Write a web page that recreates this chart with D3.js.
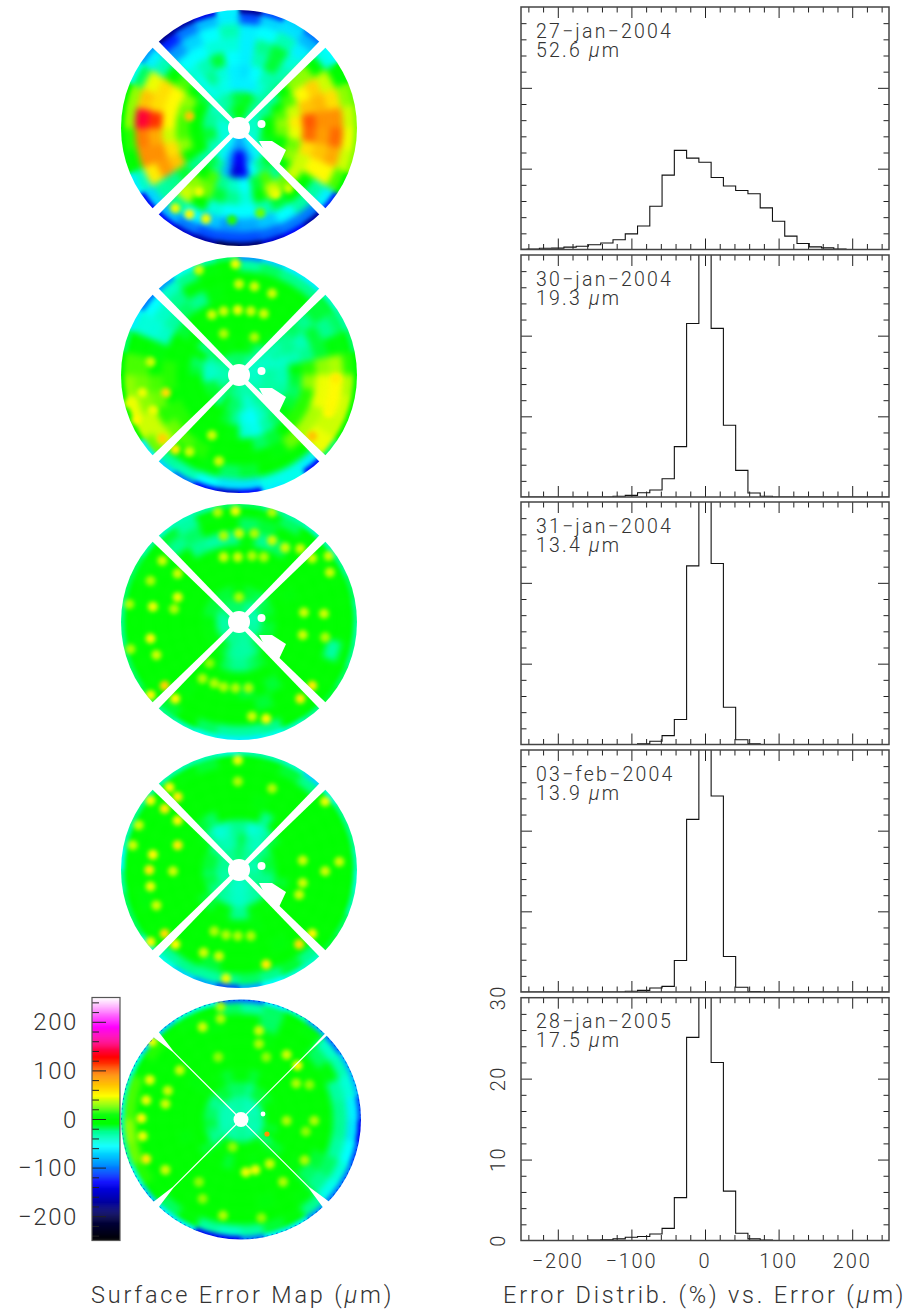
<!DOCTYPE html>
<html><head><meta charset="utf-8">
<script src="https://cdn.jsdelivr.net/npm/d3@7/dist/d3.min.js"></script>
<style>html,body{margin:0;background:#fff}svg{display:block}text{font-family:Roboto,"Open Sans",sans-serif;font-weight:300;fill:#333}</style>
</head><body><script>
// ---------- data ----------
const dates=["27−jan−2004","30−jan−2004","31−jan−2004","03−feb−2004","28−jan−2005"];
const rmsValues=["52.6","19.3","13.4","13.9","17.5"];
const binIndex=d3.range(-15,16);
const hist1=[.02,.05,.15,.17,.3,.4,.58,.8,1.2,1.93,2.9,5.35,9.2,12.26,11.3,10.8,8.9,7.85,7.3,6.9,5.15,3.5,1.65,.74,.33,.2,.05,0,0,0,0];
const hist2=[0,0,0,0,0,0,0,0,.1,.2,.53,.86,2.26,6.25,21.5,34.6,20.9,8.9,3.3,.5,.1,0,0,0,0,0,0,0,0,0,0];
const hist3=[0,0,0,0,0,0,0,0,0,0,.1,.4,1.1,3.1,22.1,45.4,22.4,4.6,.58,.1,0,0,0,0,0,0,0,0,0,0,0];
const hist4=[0,0,0,0,0,0,0,0,0,.1,.2,.5,.7,3.9,21.4,43.8,24.3,4.4,.58,.05,0,0,0,0,0,0,0,0,0,0,0];
const hist5=[0,0,0,0,0,0,.05,.1,.2,.4,.5,.8,1.5,5.3,25.1,37,22,6.1,.9,.2,.05,0,0,0,0,0,0,0,0,0,0];
// surface error, rings inner to outer, 32 sectors clockwise from the top
const map1=[
[-10,-10,-20,-30,-40,-40,-40,-40,-40,-40,-40,-50,-60,-60,-80,-90,-90,-80,-60,-55,-45,-45,-45,-45,-45,-45,-40,-30,-30,-20,-15,-10],
[-15,-10,-20,-30,-30,-25,-10,10,5,-10,-15,-30,-50,-60,-90,-130,-130,-90,-60,-45,-40,-30,-15,-15,-25,-25,-30,-40,-35,-30,-25,-15],
[-60,-60,-45,-30,-30,0,20,30,25,5,10,-15,-15,-25,-55,-130,-145,-80,-25,-15,-35,0,10,5,10,10,0,-15,-50,-45,-50,-60],
[-65,-55,-35,-30,-5,20,40,55,45,25,30,-5,-25,20,-15,-55,-40,-25,20,-5,-25,10,30,20,20,25,30,0,-50,-25,-45,-60],
[-60,-35,-15,-35,30,50,70,105,100,60,40,40,25,40,-10,-45,-25,-15,25,30,-15,70,60,40,50,50,50,20,-45,-35,-15,-55],
[-60,-25,-15,-45,30,65,75,90,85,70,50,5,10,-15,-35,-55,-55,-45,-5,40,-25,85,90,80,115,60,60,10,-55,-55,-45,-45],
[-60,-55,-35,-60,10,40,60,90,100,80,50,-30,-30,-55,-75,-85,-90,-75,-55,-25,-30,55,90,95,140,70,45,-35,-90,-70,-55,-35],
[-110,-70,-65,-80,-50,10,30,40,45,40,20,-60,-100,-100,-105,-110,-110,-110,-100,-80,-70,-40,10,15,30,30,-20,-60,-120,-100,-80,-60]];
const map2=[
[-20,-20,-25,-30,-40,-40,-40,-40,-40,-40,-35,-35,-30,-30,-35,-30,-25,-25,-20,-20,-20,-30,-30,-35,-35,-35,-30,-25,-25,-20,-20,-20],
[0,-10,-15,-25,-35,-40,-40,-30,-30,-30,-30,-30,-25,-35,-45,-30,-20,-20,-10,-40,-10,-15,-15,-40,-40,-40,-30,-20,-10,-5,-10,5],
[5,-5,5,-10,-35,-30,-40,-35,-35,-30,-25,-20,-25,-40,-55,-50,-25,-15,-5,5,-5,-5,5,-5,-15,-20,-5,-25,0,5,-5,5],
[5,5,5,0,-25,-25,-35,-10,-15,-20,-15,-10,-20,-30,-50,-45,-10,5,5,5,5,10,10,10,10,5,0,-10,5,5,5,5],
[5,5,5,5,-20,-35,-25,15,30,15,15,15,-5,-15,-20,5,0,5,5,10,15,15,10,15,15,10,-5,-15,5,5,5,5],
[5,5,5,-5,-25,-15,-15,30,45,45,35,35,25,-10,5,5,5,10,15,20,25,15,25,20,10,-10,-40,-30,-20,-25,-10,5],
[5,5,5,0,-15,-25,-10,35,50,50,40,45,10,-5,5,-15,-20,-10,5,10,40,40,30,25,20,10,-45,-40,-25,-10,5,10],
[-30,-20,-25,-25,-15,-20,-10,15,35,40,40,45,-60,-50,-50,-65,-65,-55,-35,-30,25,40,45,30,20,-5,-45,-55,-40,-25,-10,5]];
const map3=[
[-20,-20,-25,-30,-30,-30,-35,-35,-30,-30,-30,-25,-25,-25,-30,-30,-25,-25,-25,-25,-25,-30,-30,-30,-30,-30,-25,-20,-20,-20,-20,-20],
[-10,-15,-15,-20,-20,-15,-15,-10,-15,-15,-15,-10,-15,-25,-30,-30,-30,-25,-15,-10,-10,-10,-10,-10,-10,-15,-15,-15,-15,-15,-15,-10],
[0,-5,-5,-10,-10,-5,-5,0,-5,0,-5,0,-5,-15,-20,-25,-25,-20,-10,0,-5,0,5,0,5,5,0,0,-5,0,-5,0],
[5,5,0,5,-5,-10,-5,-5,-5,0,0,0,-10,-5,5,-5,0,-5,0,-5,0,0,5,0,0,5,0,0,5,0,5,0],
[5,0,5,0,-5,-5,0,5,0,5,0,0,5,-15,5,-15,-10,5,0,5,0,10,5,10,5,5,5,5,0,5,-5,5],
[-10,-25,-20,5,0,5,0,5,5,5,-5,5,5,5,-15,-5,5,-5,5,-10,10,0,10,5,10,0,-5,-5,0,-25,-30,-25],
[-20,-15,0,10,10,5,-5,5,-5,-30,5,-5,10,0,5,5,10,5,-5,5,10,5,0,5,0,5,-5,0,-25,-20,-5,0],
[5,-10,-20,-5,10,5,0,-5,5,-10,5,5,5,10,-25,-30,-30,-20,-5,-15,10,0,5,5,5,0,-10,5,-15,-30,-10,5]];
const map4=[
[-20,-25,-25,-30,-30,-30,-35,-35,-30,-25,-25,-25,-30,-35,-40,-40,-40,-40,-35,-30,-25,-30,-30,-30,-25,-25,-25,-25,-25,-25,-25,-20],
[-15,-30,-35,-40,-25,-20,-15,-15,-20,-25,-25,-20,-30,-30,-35,-40,-40,-35,-30,-25,-25,-20,-15,-20,-15,-15,-15,-25,-30,-35,-35,-25],
[-25,-45,-40,-30,-15,0,0,5,-5,-15,-5,-10,-10,0,-10,-25,-25,-10,-5,-15,-15,-5,5,-5,5,5,-5,-10,-30,-45,-40,-25],
[0,-5,-25,0,-5,0,5,-5,5,0,0,-5,0,5,-10,5,0,5,5,0,0,-5,5,-5,-5,5,0,0,-15,-20,-5,0],
[5,-10,5,-5,0,-5,5,5,-5,5,5,-5,5,5,5,-5,5,-5,5,5,-5,5,-5,5,5,10,0,5,0,5,-5,5],
[5,0,5,0,5,5,-5,5,0,10,0,5,10,-10,5,5,5,5,-5,5,5,-5,10,0,10,-5,5,10,5,0,5,5],
[5,-5,0,5,5,0,5,5,10,5,5,10,5,10,0,-5,0,-15,5,-5,10,5,-10,5,5,10,5,10,10,-5,0,5],
[5,-10,-15,-25,5,5,-5,5,5,5,0,5,-25,-15,-25,-20,-25,-30,-25,-30,5,10,5,10,10,5,10,10,10,-10,-15,0]];
const map5=[
[-30,-35,-35,-35,-35,-35,-35,-30,-30,-35,-35,-35,-30,-30,-30,-25,-25,-30,-30,-30,-30,-35,-35,-35,-35,-35,-35,-35,-35,-30,-30,-30],
[-20,-25,-15,-15,-15,-10,-5,0,0,-15,0,-25,-10,5,5,5,5,5,0,-10,-25,-25,-20,-15,-20,-20,-25,-25,-15,-15,-20,-20],
[-10,-15,0,-5,-5,5,-5,5,5,-5,-5,-15,-10,-5,-10,-5,-5,-15,-5,-5,-15,0,-5,-5,-5,-5,0,-10,-5,-10,-15,-10],
[0,0,-5,5,5,-5,5,-5,5,5,-5,0,5,5,5,5,5,5,0,-5,0,0,-10,0,5,0,-5,-10,5,-5,0,0],
[-5,5,0,-5,5,5,5,5,5,-5,5,-10,0,-5,-5,0,5,5,0,-5,5,-5,5,0,5,-5,5,-5,5,0,5,5],
[0,-10,5,5,10,5,0,5,-5,5,-15,-20,5,0,-10,5,5,-5,5,0,5,5,5,5,5,5,0,5,-5,5,-5,0],
[5,-20,-5,5,-20,-10,-30,-25,-25,-30,-20,-25,-10,5,5,0,5,5,0,5,5,5,10,5,10,5,5,5,-5,5,-10,0],
[-30,-20,0,-10,-40,-35,-45,-60,-65,-55,-45,-50,-25,-10,-15,-30,-40,-30,-10,-20,10,15,25,30,20,20,10,15,5,-10,-5,-20]];
// outermost rim, same 32 sectors
const rim1=[-175,-110,-70,-100,-55,0,25,30,30,30,10,-120,-170,-130,-150,-190,-200,-170,-150,-130,-130,-60,-10,0,10,10,-50,-90,-180,-170,-140,-60];
const rim2=[-90,-70,-60,-60,-40,-30,-20,0,10,10,10,-20,-128,-50,-60,-128,-150,-128,-100,-70,-60,0,10,10,0,-20,-60,-100,-90,-50,-30,-20];
const rim3=[-20,-25,-30,-40,-35,-25,-20,-25,-30,-25,-20,-15,-25,-40,-50,-60,-60,-50,-40,-25,-15,-20,-20,-25,-25,-20,-20,-30,-40,-35,-30,-20];
const rim4=[-35,-35,-40,-70,-45,-25,-25,-35,-45,-35,-20,-15,-40,-45,-55,-85,-110,-85,-70,-50,-40,-20,-20,-30,-55,-35,-25,-30,-35,-35,-35,-45];
const rim5=[-100,-60,-40,-80,-100,-80,-80,-110,-130,-110,-100,-100,-90,-60,-60,-100,-128,-128,-60,-60,-70,-50,-30,-30,-40,-40,-50,-70,-70,-50,-50,-100];
// actuator print-through spots: [east %, north % of radius, error]
const spots1=[[-54,-68,45],[-42,-73,50],[-28,-77,45],[-34,-54,45],[31,-56,45],[42,-51,40],[-42,10,70],[-6,-78,15],[18,-72,25]];
const spots2=[[0,77,40],[13,75,40],[-23,51,40],[-13,54,40],[-1,55,45],[10,54,40],[21,52,40],[-13,35,35],[13,32,35],[-34,89,40],[-3,94,45],[28,69,40],[-75,11,40],[-62,-15,60],[-73,-30,45],[-82,-15,45],[-93,-24,45],[-87,-38,50],[-65,-54,65],[-54,-63,55],[-42,-65,40],[-23,-51,40],[-17,-73,40],[62,-52,70],[82,-3,55],[76,-32,50]];
const spots3=[[0,75,40],[-18,93,35],[-3,94,45],[28,93,35],[-13,55,40],[-1,55,40],[11,56,35],[28,69,40],[39,63,40],[52,62,40],[13,75,35],[-13,73,35],[0,21,35],[-65,52,40],[-52,41,40],[-52,21,45],[-73,13,45],[-75,-14,50],[-55,11,35],[-70,-28,40],[-92,-23,35],[-63,-54,65],[-75,-62,50],[-54,-65,50],[52,-65,55],[62,-54,55],[23,-82,50],[-3,-56,35],[-13,-55,35],[-21,-52,35],[8,-56,35],[-31,-48,35],[-25,-35,30],[55,8,40],[54,-11,40],[72,7,40],[73,-13,35],[77,42,40],[62,54,40],[76,56,40],[21,55,35],[11,-80,40],[-75,35,35],[-93,15,35]];
const spots4=[[-1,93,45],[-59,70,50],[-52,62,55],[-75,59,50],[-63,52,55],[-52,42,50],[-52,21,55],[-73,13,50],[-76,0,55],[-56,-1,40],[-75,-14,45],[-70,-30,40],[-90,21,40],[-85,38,40],[-63,-54,60],[-75,-61,50],[-54,-63,50],[51,-63,60],[62,-54,50],[23,-80,55],[-11,-92,45],[-1,-56,35],[-11,-55,35],[-21,-52,35],[10,-56,35],[-17,-73,40],[-30,-70,40],[54,8,40],[54,-11,40],[85,7,40],[73,-1,40],[51,-21,40],[73,58,45],[28,69,35],[-1,75,35]];
const spots5=[[-17,94,35],[-32,77,40],[-17,84,35],[15,74,40],[15,63,35],[-19,52,30],[21,52,30],[38,54,40],[47,45,50],[-76,33,45],[-61,24,40],[-51,41,40],[-79,16,45],[-63,13,40],[-83,1,50],[-82,-14,45],[-79,-33,55],[-63,-42,40],[-74,65,45],[38,-1,35],[61,-1,35],[54,-10,30],[46,30,35],[57,29,30],[4,-44,45],[12,-42,45],[24,-37,40],[-7,-23,30],[-35,-52,30],[-15,-80,35],[35,-52,35],[53,-34,35],[-32,-66,30],[17,-82,30]];
const maps=[map1,map2,map3,map4,map5];
const rims=[rim1,rim2,rim3,rim4,rim5];
const spots=[spots1,spots2,spots3,spots4,spots5];
const hists=[hist1,hist2,hist3,hist4,hist5];
const colorStops=[-250,-200,-170,-128,-94,-55,-25,-9,10,28,48,90,128,160,190,225,250];
const colorRange=["#000000","#00004c","#0000a0","#0000ff","#0090ff","#00ffff","#00ff90","#00ff00","#00ff00","#80ff00","#ffff00","#ff9000","#ff0000","#ff0090","#ff00ff","#ff90ff","#ffffff"];
const spotValue=90;
// ---------- layout ----------
const W=912,H=1315;
const svg=d3.select("body").append("svg").attr("width",W).attr("height",H);
const defs=svg.append("defs");
const color=d3.scaleLinear().domain(colorStops).range(colorRange).clamp(true);
const mkBlur=(id,s)=>defs.append("filter").attr("id",id).attr("x","-15%").attr("y","-15%").attr("width","130%").attr("height","130%")
  .attr("color-interpolation-filters","sRGB").append("feGaussianBlur").attr("stdDeviation",s);
mkBlur("blur",3.2);mkBlur("blur2",2.3);mkBlur("soft",0.5);

const mapGeom=[{cx:239,cy:128,R:118},{cx:239,cy:375,R:118},{cx:239,cy:622,R:118},{cx:239,cy:870,R:118},{cx:241,cy:1119.5,R:120}];
const sectorAngle=d3.scaleLinear().domain([0,32]).range([0,2*Math.PI]);
function drawMap(values,g,idx){
  const last=idx===4;
  const rs=d3.scaleLinear().domain([0,8]).range([.08*g.R,g.R]);
  const px=d3.scaleLinear().domain([-100,100]).range([-g.R,g.R]);
  const py=d3.scaleLinear().domain([-100,100]).range([g.R,-g.R]);
  const arc=d3.arc();
  const cells=values.flatMap((ring,r)=>ring.map((v,s)=>({r,s,v})));
  const mask=defs.append("mask").attr("id","m"+idx).attr("maskUnits","userSpaceOnUse")
    .attr("x",-g.R-12).attr("y",-g.R-12).attr("width",2*g.R+24).attr("height",2*g.R+24);
  mask.append("circle").attr("r",g.R).attr("fill","#fff");
  const outerW=last?[3,10,9,9]:[9,9,9,9];
  const innerW=last?1.2:4.5;
  [45,135,225,315].forEach((a,i)=>{
    const pts=last?[[-innerW/2,0],[-innerW/2,.8*g.R],[-outerW[i]/2,1.05*g.R],[outerW[i]/2,1.05*g.R],[innerW/2,.8*g.R],[innerW/2,0]]
                  :[[-innerW/2,0],[-outerW[i]/2,1.05*g.R],[outerW[i]/2,1.05*g.R],[innerW/2,0]];
    mask.append("path").attr("d",d3.line()(pts)+"Z").attr("fill","#000").attr("transform",`rotate(${a+180})`);
  });
  mask.append("circle").attr("r",last?7.5:11).attr("fill","#000");
  if(!last){
    mask.append("circle").attr("cx",22.5).attr("cy",-4).attr("r",4).attr("fill","#000");
    mask.append("path").attr("d",d3.line()([[20,13],[33,13],[47,22],[40,37],[32,36]])+"Z").attr("fill","#000");
  } else {
    mask.append("circle").attr("cx",22).attr("cy",-5.5).attr("r",2.4).attr("fill","#000");
  }
  const outer=svg.append("g").attr("filter","url(#soft)").attr("transform",`translate(${g.cx},${g.cy})`);
  const clipped=outer.append("g").attr("mask",`url(#m${idx})`);
  const blurred=clipped.append("g").attr("filter","url(#blur)");
  blurred.selectAll("path").data(cells).join("path")
    .attr("d",d=>arc({innerRadius:d.r===0?0:rs(d.r),outerRadius:d.r===7?g.R+14:rs(d.r+1),startAngle:sectorAngle(d.s),endAngle:sectorAngle(d.s+1)}))
    .attr("fill",d=>color(d.v)).attr("stroke",d=>color(d.v)).attr("stroke-width",.5);
  const fine=clipped.append("g").attr("filter","url(#blur2)");
  fine.selectAll("path").data(rims[idx]).join("path")
    .attr("d",(v,s)=>arc({innerRadius:g.R-3.5,outerRadius:g.R+14,startAngle:sectorAngle(s),endAngle:sectorAngle(s+1)}))
    .attr("fill",v=>color(v));
  fine.selectAll("circle").data(spots[idx]).join("circle")
    .attr("cx",d=>px(d[0])).attr("cy",d=>py(d[1])).attr("r",5).attr("fill",d=>color(d[2]));
  if(last){
    clipped.append("circle").attr("cx",26).attr("cy",14.5).attr("r",2.6).attr("fill",color(spotValue));
    clipped.append("circle").attr("r",g.R-.5).attr("fill","none").attr("stroke",color(-150)).attr("stroke-width",1.1).attr("stroke-dasharray","2 3").attr("opacity",.5);
  }
}
maps.forEach((m,i)=>drawMap(m,mapGeom[i],i));

// ---------- colour bar ----------
const cbY=d3.scaleLinear().domain([-250,250]).range([1240.5,997.5]);
const cbX0=92,cbX1=120;
const cb=svg.append("g");
cb.selectAll("rect").data(d3.range(-250,250,2)).join("rect")
  .attr("x",cbX0).attr("width",cbX1-cbX0).attr("y",d=>cbY(d+2)).attr("height",d=>cbY(d)-cbY(d+2)+.4).attr("fill",d=>color(d+1));
cb.append("g").attr("transform",`translate(${cbX0},0)`).call(d3.axisRight(cbY).tickValues(d3.range(-240,250,20).filter(d=>d%100)).tickSize(7).tickFormat(""))
  .call(a=>a.select(".domain").remove()).selectAll("line").attr("stroke","#222");
const cbMajor=cb.append("g").attr("transform",`translate(${cbX0},0)`).call(d3.axisRight(cbY).tickValues([-200,-100,0,100,200]).tickSize(14).tickFormat(""));
cbMajor.select(".domain").remove();cbMajor.selectAll("line").attr("stroke","#222");
cb.append("rect").attr("x",cbX0).attr("y",997.5).attr("width",cbX1-cbX0).attr("height",243).attr("fill","none").attr("stroke","#555").attr("stroke-width",1.2);
const fmt=d=>(d<0?"−":"")+Math.abs(d);
svg.append("g").selectAll("text").data([-200,-100,0,100,200]).join("text")
  .attr("x",78).attr("y",d=>cbY(d)+8.5).attr("text-anchor","end").attr("font-size",24).attr("letter-spacing",1.6).text(fmt);

// ---------- histograms ----------
const panels=[{t:7,b:249.5},{t:255,b:497},{t:502,b:744.5},{t:750,b:992},{t:997.7,b:1240.5}];
const x0=521,x1=889;
const x=d3.scaleLinear().domain([-250,250]).range([x0,x1]);
const binW=500/30;
panels.forEach((p,i)=>{
  const y=d3.scaleLinear().domain([0,30]).range([p.b,p.t]);
  const g=svg.append("g");
  const clipId="c"+i;
  defs.append("clipPath").attr("id",clipId).append("rect").attr("x",x0).attr("y",p.t).attr("width",x1-x0).attr("height",p.b-p.t);
  const pts=binIndex.map((k,j)=>({e:k*binW-binW/2,v:hists[i][j]}));
  pts.push({e:15*binW+binW/2,v:hists[i][30]});
  g.append("path").attr("clip-path",`url(#${clipId})`).attr("d",d3.line().x(d=>x(d.e)).y(d=>y(d.v)).curve(d3.curveStepAfter)(pts))
    .attr("fill","none").attr("stroke","#111").attr("stroke-width",1.1);
  const xMinor=d3.range(-240,250,20).filter(d=>d%100),xMajor=[-200,-100,0,100,200];
  const yMinor=d3.range(2,30,2).filter(d=>d%10),yMajor=[10,20];
  const ax=(gen,scale,vals,size,tx,ty)=>{
    const a=g.append("g").attr("transform",`translate(${tx},${ty})`).call(gen(scale).tickValues(vals).tickSize(size).tickFormat(""));
    a.select(".domain").remove();a.selectAll("line").attr("stroke","#222").attr("stroke-width",1);
  };
  ax(d3.axisBottom,x,xMinor,-5.5,0,p.b);ax(d3.axisBottom,x,xMajor,-11,0,p.b);
  ax(d3.axisTop,x,xMinor,-5.5,0,p.t);ax(d3.axisTop,x,xMajor,-11,0,p.t);
  ax(d3.axisLeft,y,yMinor,-5.5,x0,0);ax(d3.axisLeft,y,yMajor,-11,x0,0);
  ax(d3.axisRight,y,yMinor,-5.5,x1,0);ax(d3.axisRight,y,yMajor,-11,x1,0);
  g.append("rect").attr("x",x0).attr("y",p.t).attr("width",x1-x0).attr("height",p.b-p.t).attr("fill","none").attr("stroke","#444").attr("stroke-width",1.5);
  g.append("text").attr("x",536).attr("y",p.t+30.5).attr("font-size",19.5).attr("letter-spacing",2.2).text(dates[i]);
  const t=g.append("text").attr("x",536).attr("y",p.t+49.5).attr("font-size",19.5).attr("letter-spacing",2.2);
  t.append("tspan").text(rmsValues[i]+" ");
  t.append("tspan").attr("font-style","italic").text("μ");
  t.append("tspan").text("m");
  if(i===4){
    svg.append("g").selectAll("text").data(xMajor).join("text").attr("x",d=>x(d)).attr("y",1268).attr("text-anchor","middle")
      .attr("font-size",20).attr("letter-spacing",1.8).text(fmt);
    svg.append("g").selectAll("text").data([0,10,20,30]).join("text")
      .attr("transform",d=>`translate(505,${y(d)}) rotate(-90)`).attr("text-anchor","middle").attr("font-size",20).attr("letter-spacing",1.4).text(d=>d);
  }
});
// ---------- captions ----------
const cap=(xp,str,sp)=>{
  const t=svg.append("text").attr("x",xp).attr("y",1303).attr("font-size",23.5).attr("letter-spacing",sp);
  t.append("tspan").text(str+" (");
  t.append("tspan").attr("font-style","italic").text("μ");
  t.append("tspan").text("m)");
};
cap(91,"Surface Error Map",2.8);
cap(503,"Error Distrib. (%) vs. Error",2.8);
</script></body></html>
